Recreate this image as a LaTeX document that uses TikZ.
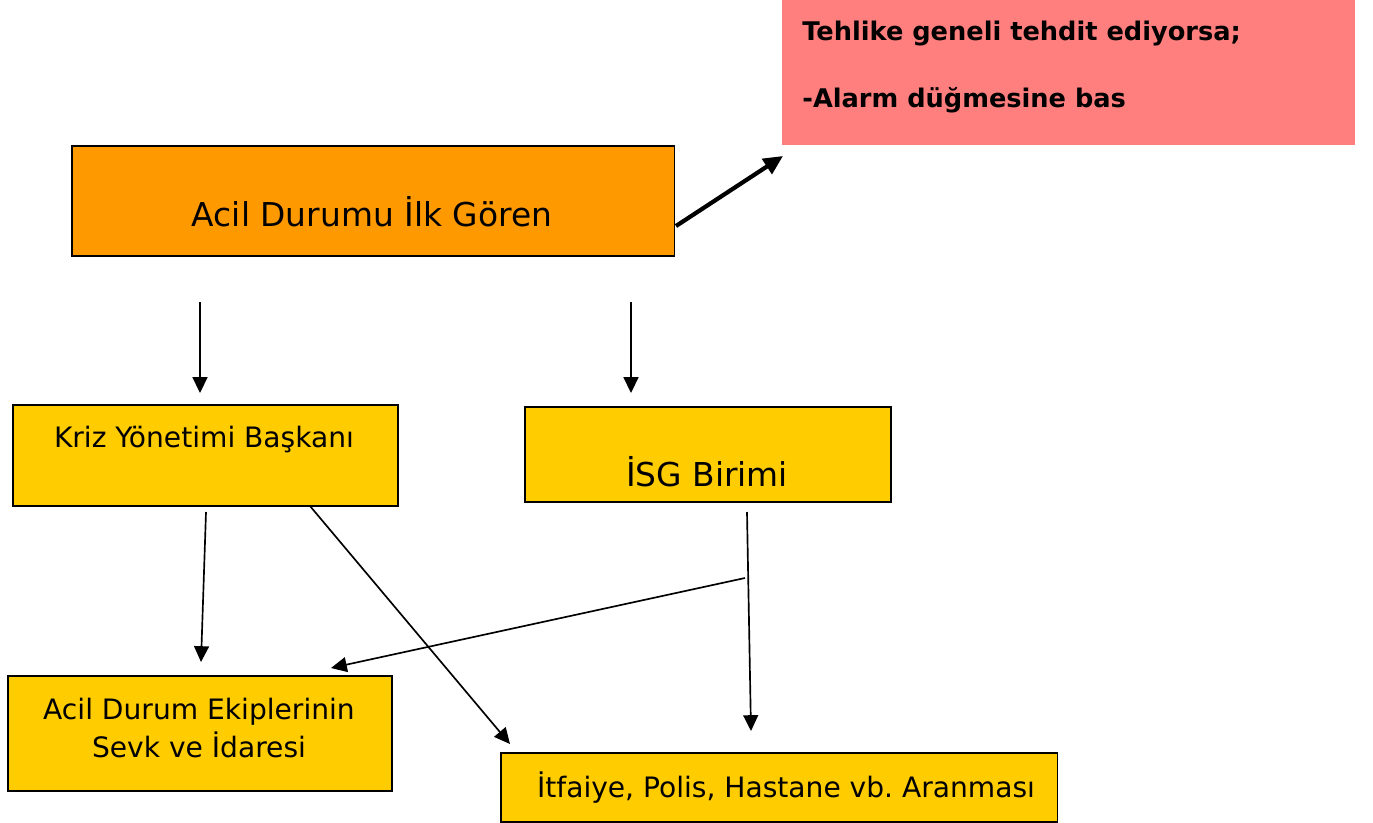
\documentclass[tikz,border=0pt]{standalone}
\usepackage{fontspec}
\setmainfont{DejaVu Sans}
\usetikzlibrary{arrows.meta}

\definecolor{alarmpink}{HTML}{FF7F7F}
\definecolor{firstorange}{HTML}{FF9900}
\definecolor{unityellow}{HTML}{FFCC00}

\newcommand{\bigfont}{\fontsize{18.7}{22}\selectfont}
\newcommand{\smallfont}{\fontsize{16}{21.5}\selectfont}
\newcommand{\alarmfont}{\fontsize{14.6}{18}\selectfont\bfseries}
\frenchspacing

\begin{document}
\begin{tikzpicture}[x=0.02cm, y=-0.02cm,
    box/.style={draw=black, line width=0.9pt, fill=unityellow, anchor=north west, inner sep=0pt},
    lbl/.style={anchor=base, inner sep=0pt},
    link/.style={line width=0.95pt, -{Triangle[length=9pt, width=8.5pt]}},
    thicklink/.style={line width=2.4pt, -{Triangle[length=11pt, width=10pt]}}]
  \useasboundingbox (0,0) rectangle (1373,822);

  \fill[alarmpink] (782,0) rectangle (1355,145);
  \node[lbl, anchor=base west, font=\alarmfont] (alarm1) at (802,40) {Tehlike geneli tehdit ediyorsa;};
  \node[lbl, anchor=base west, font=\alarmfont] (alarm2) at (802,107) {-Alarm düğmesine bas};

  \node[box, fill=firstorange, minimum width=12.06cm, minimum height=2.2cm] (goren) at (71,145) {};
  \node[lbl, font=\bigfont] (gorentext) at (372,226) {Acil Durumu İlk Gören};

  \node[box, minimum width=7.7cm, minimum height=2.02cm] (kriz) at (12,404) {};
  \node[lbl, font=\smallfont] (kriztext) at (204,447) {Kriz Yönetimi Başkanı};

  \node[box, minimum width=7.32cm, minimum height=1.9cm] (isg) at (524,406) {};
  \node[lbl, font=\bigfont] (isgtext) at (707,486) {İSG Birimi};

  \node[box, minimum width=7.68cm, minimum height=2.3cm] (ekip) at (7,675) {};
  \node[lbl, font=\smallfont] (ekiptext1) at (199,719) {Acil Durum Ekiplerinin};
  \node[lbl, font=\smallfont] (ekiptext2) at (199,757) {Sevk ve İdaresi};

  \node[box, minimum width=11.14cm, minimum height=1.38cm] (itfaiye) at (500,752) {};
  \node[lbl, font=\smallfont] (itfaiyetext) at (786,797) {İtfaiye, Polis, Hastane vb. Aranması};

  \coordinate (t0) at (676,226);  \coordinate (t1) at (783,156);
  \coordinate (a0) at (200,302);  \coordinate (a1) at (200,393);
  \coordinate (b0) at (631,302);  \coordinate (b1) at (631,393);
  \coordinate (c0) at (206,512);  \coordinate (c1) at (201,662);
  \coordinate (d0) at (310,506);  \coordinate (d1) at (510,744);
  \coordinate (e0) at (747,512);  \coordinate (e1) at (751,731);
  \coordinate (f0) at (745,578);  \coordinate (f1) at (331,668);

  \draw[thicklink] (t0) -- (t1);
  \begin{scope}[link]
    \draw (a0) -- (a1);
    \draw (b0) -- (b1);
    \draw (c0) -- (c1);
    \draw (d0) -- (d1);
    \draw (e0) -- (e1);
    \draw (f0) -- (f1);
  \end{scope}
\end{tikzpicture}
\end{document}
